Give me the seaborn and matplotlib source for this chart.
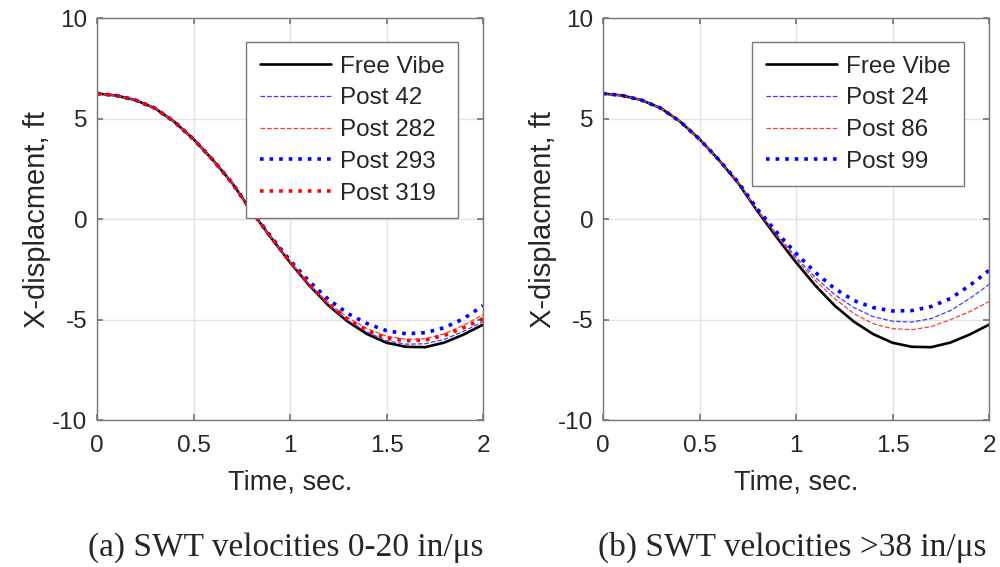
import numpy as np
import matplotlib.pyplot as plt
import seaborn as sns

# ── Data ──────────────────────────────────────────────────────────────────────
t = [0.0, 0.1, 0.2, 0.3, 0.4, 0.5, 0.6, 0.7, 0.8, 0.9, 1.0,
     1.1, 1.2, 1.3, 1.4, 1.5, 1.6, 1.7, 1.8, 1.9, 2.0]

free_vibe = [6.25, 6.15, 5.92, 5.52, 4.85, 3.98, 2.95, 1.80, 0.40, -0.90, -2.15,
             -3.30, -4.30, -5.10, -5.72, -6.15, -6.35, -6.37, -6.14, -5.74, -5.25]

# panel (a)
post_42 = [6.25, 6.15, 5.92, 5.52, 4.85, 3.98, 2.95, 1.80, 0.40, -0.90, -2.14,
           -3.28, -4.27, -5.05, -5.62, -6.05, -6.22, -6.20, -5.98, -5.58, -5.10]
post_282 = [6.25, 6.15, 5.92, 5.52, 4.85, 3.98, 2.95, 1.80, 0.40, -0.89, -2.12,
            -3.22, -4.18, -4.90, -5.45, -5.82, -5.98, -5.95, -5.70, -5.28, -4.75]
post_293 = [6.25, 6.15, 5.92, 5.52, 4.85, 3.98, 2.95, 1.80, 0.42, -0.85, -2.05,
            -3.10, -4.00, -4.70, -5.20, -5.55, -5.70, -5.65, -5.40, -4.95, -4.30]
post_319 = [6.25, 6.15, 5.92, 5.52, 4.85, 3.98, 2.95, 1.80, 0.40, -0.89, -2.12,
            -3.25, -4.22, -4.98, -5.55, -5.92, -6.05, -6.02, -5.78, -5.40, -4.95]

# panel (b)
post_24 = [6.25, 6.15, 5.92, 5.52, 4.85, 3.98, 2.95, 1.82, 0.45, -0.75, -1.90,
           -2.90, -3.75, -4.40, -4.85, -5.08, -5.12, -4.95, -4.55, -3.95, -3.25]
post_86 = [6.25, 6.15, 5.92, 5.52, 4.85, 3.98, 2.95, 1.80, 0.42, -0.82, -2.00,
           -3.05, -3.95, -4.70, -5.20, -5.45, -5.50, -5.35, -5.00, -4.60, -4.10]
post_99 = [6.25, 6.15, 5.92, 5.52, 4.85, 3.98, 2.96, 1.84, 0.50, -0.65, -1.70,
           -2.65, -3.45, -4.05, -4.40, -4.57, -4.55, -4.35, -3.95, -3.30, -2.55]

panel_a = [('Free Vibe', free_vibe), ('Post 42', post_42), ('Post 282', post_282),
           ('Post 293', post_293), ('Post 319', post_319)]
panel_b = [('Free Vibe', free_vibe), ('Post 24', post_24), ('Post 86', post_86),
           ('Post 99', post_99)]

captions = ['(a) SWT velocities 0-20 in/\u03bcs', '(b) SWT velocities >38 in/\u03bcs']

# line styles, in order of series
styles = [dict(color='black', linestyle='-', linewidth=1.9),
          dict(color='#3a3aff', linestyle='--', linewidth=0.9, dashes=(4, 3)),
          dict(color='#ff3a3a', linestyle='--', linewidth=0.9, dashes=(4, 3)),
          dict(color='#0000ff', linestyle=':', linewidth=2.6),
          dict(color='#ff0000', linestyle=':', linewidth=2.6)]

# ── Setup ─────────────────────────────────────────────────────────────────────
sns.set_theme(style="whitegrid")
plt.rcParams['font.family'] = ['Liberation Sans', 'DejaVu Sans']
plt.rcParams['axes.unicode_minus'] = False

fig = plt.figure(figsize=(10, 5.67), dpi=100)
axes = [fig.add_axes([0.097, 0.259, 0.386, 0.709]),
        fig.add_axes([0.603, 0.259, 0.386, 0.709])]

for ax, series, cap, cx in zip(axes, [panel_a, panel_b], captions, [0.286, 0.792]):
    for (name, vals), st in zip(series, styles):
        sns.lineplot(x=t, y=vals, ax=ax, label=name, **st)
    ax.set_xlim(0, 2)
    ax.set_ylim(-10, 10)
    ax.set_xticks([0, 0.5, 1, 1.5, 2])
    ax.set_xticklabels(['0', '0.5', '1', '1.5', '2'])
    ax.set_yticks([-10, -5, 0, 5, 10])
    ax.tick_params(labelsize=17.5, direction='in', length=4, color='#777777',
                   bottom=True, left=True, top=True, right=True,
                   labeltop=False, labelright=False)
    ax.tick_params(axis='x', pad=11)
    ax.tick_params(axis='y', pad=7)
    ax.grid(True, color='#e3e3e3', linewidth=1.0)
    for sp in ax.spines.values():
        sp.set_color('#777777')
        sp.set_linewidth(1.0)
    ax.set_xlabel('Time, sec.', fontsize=19.5, labelpad=9)
    ax.set_ylabel('X-displacment, ft', fontsize=21, labelpad=1)
    leg = ax.legend(loc='upper right', bbox_to_anchor=(0.935, 0.94), fontsize=17.5,
                    fancybox=False, framealpha=1, edgecolor='#777777',
                    handlelength=2.95, handletextpad=0.35, borderpad=0.55,
                    labelspacing=0.4, borderaxespad=0)
    leg.get_frame().set_linewidth(1.0)
    fig.text(cx, 0.034, cap, ha='center', va='center', fontsize=24,
             family=['Liberation Serif', 'DejaVu Serif'])

fig.savefig('out.png', dpi=100)
